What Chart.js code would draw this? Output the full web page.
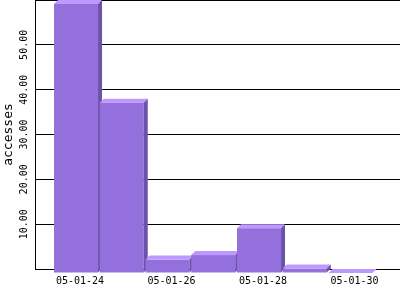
<!DOCTYPE html>
<html>
<head>
<meta charset="utf-8">
<script src="https://cdn.jsdelivr.net/npm/chart.js@4"></script>
<style>
  body { margin: 0; background: #fff; }
  #wrap { width: 400px; height: 300px; }
</style>
</head>
<body>
<div id="wrap"><canvas id="accessChart" width="400" height="300"></canvas></div>
<script>
const days = ["05-01-24", "05-01-25", "05-01-26", "05-01-27", "05-01-28", "05-01-29", "05-01-30"]
const accesses = [60, 38, 3, 4, 10, 1, 0]
const yTicks = [10, 20, 30, 40, 50]

const FRONT = "#9370db"
const TOP = "#bd99ff"
const SIDE = "#6b53ab"
const DEPTH = 4

// draws every bar as a small 3d box, from the positions chart.js gave the bar elements
const boxBars = {
    id: 'boxBars',
    afterDatasetsDraw(chart) {
        const ctx = chart.ctx
        const meta = chart.getDatasetMeta(0)
        ctx.save()
        meta.data.forEach((bar) => {
            const p = bar.getProps(['x', 'y', 'base', 'width'], true)
            const l = p.x - p.width / 2
            const r = p.x + p.width / 2
            const top = Math.min(p.y, p.base)
            const base = p.base
            // front
            ctx.fillStyle = FRONT
            ctx.fillRect(l - DEPTH, top + DEPTH, r - l, base - top)
            // top
            ctx.fillStyle = TOP
            ctx.beginPath()
            ctx.moveTo(l - DEPTH, top + DEPTH)
            ctx.lineTo(l, top)
            ctx.lineTo(r, top)
            ctx.lineTo(r - DEPTH, top + DEPTH)
            ctx.closePath()
            ctx.fill()
            // side
            ctx.fillStyle = SIDE
            ctx.beginPath()
            ctx.moveTo(r - DEPTH, top + DEPTH)
            ctx.lineTo(r, top)
            ctx.lineTo(r, base)
            ctx.lineTo(r - DEPTH, base + DEPTH)
            ctx.closePath()
            ctx.fill()
        })
        ctx.restore()
    },
    afterDraw(chart) {
        // y tick labels, turned to read upwards
        const ctx = chart.ctx
        const y = chart.scales.y
        ctx.save()
        ctx.fillStyle = '#000'
        ctx.font = '10px "DejaVu Sans Mono"'
        ctx.textAlign = 'center'
        ctx.textBaseline = 'middle'
        yTicks.forEach((v) => {
            ctx.save()
            ctx.translate(24, y.getPixelForValue(v))
            ctx.rotate(-Math.PI / 2)
            ctx.fillText(v.toFixed(2), 0, 0)
            ctx.restore()
        })
        ctx.restore()
    }
}

const accessChart = new Chart(document.getElementById('accessChart'), {
    type: 'bar',
    data: {
        datasets: [
            {
                label: 'accesses',
                data: days.map((d, i) => ({ x: i, y: accesses[i] })),
                backgroundColor: 'rgba(0,0,0,0)',
                borderWidth: 0,
                categoryPercentage: 1,
                barPercentage: 0.962
            }
        ]
    },
    options: {
        responsive: false,
        animation: false,
        events: [],
        layout: { padding: 0 },
        plugins: {
            legend: { display: false },
            tooltip: { enabled: false }
        },
        scales: {
            x: {
                type: 'linear',
                offset: false,
                min: -0.984,
                max: 6.994,
                grid: { display: false, drawTicks: false },
                border: { display: true, color: '#000', width: 1 },
                ticks: {
                    stepSize: 2,
                    includeBounds: false,
                    autoSkip: false,
                    maxRotation: 0,
                    padding: 6,
                    color: '#000',
                    font: { family: 'DejaVu Sans Mono', size: 10 },
                    callback: (v) => days[v] || ''
                },
                afterFit: (scale) => { scale.height = 31 }
            },
            y: {
                min: 0,
                max: 60,
                grid: { color: '#000', lineWidth: 1, drawTicks: false },
                border: { display: true, color: '#000', width: 1 },
                ticks: { display: false, stepSize: 10 },
                title: {
                    display: true,
                    text: 'accesses',
                    color: '#000',
                    font: { family: 'DejaVu Sans Mono', size: 13 },
                    padding: { top: 1, bottom: 0 }
                },
                afterFit: (scale) => { scale.width = 35 }
            }
        }
    },
    plugins: [boxBars]
});
</script>
</body>
</html>
